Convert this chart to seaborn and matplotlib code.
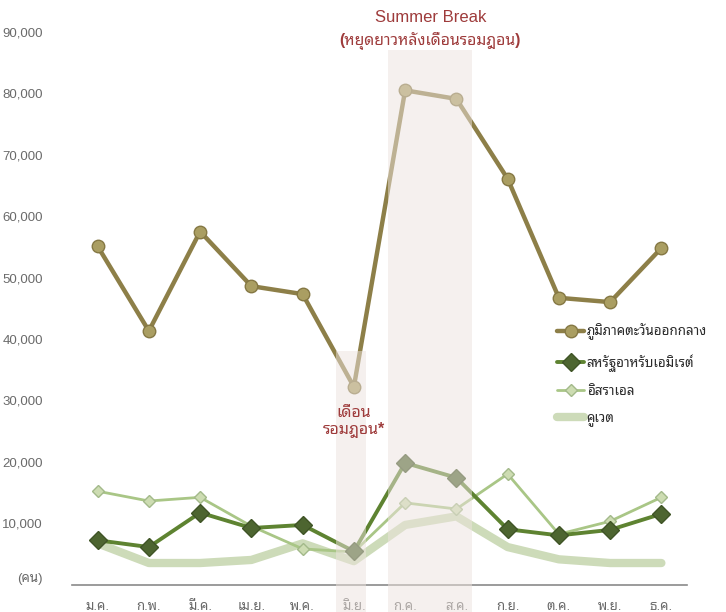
import matplotlib
matplotlib.use("Agg")
import matplotlib.pyplot as plt
from matplotlib.patches import Rectangle
from matplotlib.lines import Line2D
from matplotlib.transforms import ScaledTranslation
import seaborn as sns
import pandas as pd
import numpy as np

months = ["ม.ค.", "ก.พ.", "มี.ค.", "เม.ย.", "พ.ค.", "มิ.ย.", "ก.ค.", "ส.ค.", "ก.ย.", "ต.ค.", "พ.ย.", "ธ.ค."]
middle_east = [55100, 41300, 57500, 48600, 47300, 32200, 80500, 79100, 66100, 46700, 46000, 54800]
uae = [7200, 6100, 11700, 9200, 9700, 5400, 19800, 17400, 9000, 8000, 8900, 11500]
israel = [15200, 13600, 14200, 9500, 5800, 5300, 13300, 12300, 18000, 8200, 10300, 14200]
kuwait = [6700, 3500, 3500, 4000, 6700, 3800, 9700, 11100, 6100, 4100, 3500, 3500]
series_names = ["ภูมิภาคตะวันออกกลาง", "สหรัฐอาหรับเอมิเรต์", "อิสราเอล", "คูเวต"]
yticks = [0, 10000, 20000, 30000, 40000, 50000, 60000, 70000, 80000, 90000]
ytick_labels = ["(คน)", "10,000", "20,000", "30,000", "40,000", "50,000", "60,000", "70,000", "80,000", "90,000"]

sns.set_theme(style="white")
plt.rcParams['font.family'] = ['Liberation Sans', 'Noto Sans Thai Looped', 'DejaVu Sans']

df = pd.DataFrame({
    "x": list(range(12)) * 4,
    "value": middle_east + uae + israel + kuwait,
    "series": sum([[n] * 12 for n in series_names], []),
})

fig = plt.figure(figsize=(7.26, 6.12), dpi=100)
ax = fig.add_axes([72 / 726, 27.5 / 612, 615 / 726, 552.5 / 612])

styles = {
    series_names[3]: dict(color="#cddbb9", lw=6.0, marker=None, ms=0, mfc=None, mec=None, z=2),
    series_names[2]: dict(color="#a9c686", lw=2.0, marker="D", ms=6.5, mfc="#cddcb2", mec="#a3b98a", z=3),
    series_names[1]: dict(color="#5e8331", lw=2.8, marker="D", ms=9.5, mfc="#4d6530", mec="#3f5426", z=4),
    series_names[0]: dict(color="#8d7f48", lw=3.2, marker="o", ms=9, mfc="#aa9e62", mec="#857844", z=4.5),
}
for name in [series_names[3], series_names[2], series_names[1], series_names[0]]:
    st = styles[name]
    sub = df[df["series"] == name]
    kw = dict(color=st["color"], linewidth=st["lw"], zorder=st["z"])
    if st["marker"]:
        kw.update(marker=st["marker"], markersize=st["ms"], markerfacecolor=st["mfc"],
                  markeredgecolor=st["mec"], markeredgewidth=1.0)
    sns.lineplot(data=sub, x="x", y="value", ax=ax, legend=False, **kw)

ax.set_xlim(-0.5, 11.5)
ax.set_ylim(0, 90000)
ax.set_xticks(range(12))
ax.set_xticklabels(months)
ax.set_yticks(yticks)
ax.set_yticklabels(ytick_labels)
ax.set_xlabel("")
ax.set_ylabel("")
ax.tick_params(axis="x", length=0, pad=12, labelsize=9.5, labelcolor="#6a6a6a")
ax.tick_params(axis="y", length=0, pad=21, labelsize=9.5, labelcolor="#6a6a6a")
for s in ["left", "right", "top"]:
    ax.spines[s].set_visible(False)
ax.spines["bottom"].set_color("#8a8a8a")
ax.spines["bottom"].set_linewidth(1.2)
ax.grid(False)

# lift the "(คน)" label slightly above the baseline
zero_lbl = ax.get_yticklabels()[0]
zero_lbl.set_transform(zero_lbl.get_transform() + ScaledTranslation(0, 0.07, fig.dpi_scale_trans))

# shaded bands (drawn over lines and labels, semi-transparent)
trans = ax.get_xaxis_transform()
band_kw = dict(transform=trans, facecolor="#ede3de", alpha=0.5, edgecolor="none", zorder=6, clip_on=False)
ax.add_patch(Rectangle((4.66, -0.06), 0.58, 0.06 + 38000 / 90000, **band_kw))
ax.add_patch(Rectangle((5.67, -0.06), 1.64, 0.06 + 87000 / 90000, **band_kw))

red = "#9e3b3b"
ax.text(5.0, 26600, "เดือน\nรอมฎอน*", ha="center", va="center", color=red,
        fontsize=11.5, fontweight="bold", linespacing=1.15, zorder=7)
ax.text(6.49, 92300, "Summer Break", ha="center", va="center", color=red,
        fontsize=12, zorder=7, clip_on=False)
ax.text(6.49, 88600, "(หยุดยาวหลังเดือนรอมฎอน)", ha="center", va="center", color=red,
        fontsize=11.3, fontweight="bold", zorder=7, clip_on=False)

handles = [
    Line2D([], [], color=styles[series_names[0]]["color"], lw=3.2, marker="o", ms=9,
           mfc=styles[series_names[0]]["mfc"], mec=styles[series_names[0]]["mec"]),
    Line2D([], [], color=styles[series_names[1]]["color"], lw=2.8, marker="D", ms=9.5,
           mfc=styles[series_names[1]]["mfc"], mec=styles[series_names[1]]["mec"]),
    Line2D([], [], color=styles[series_names[2]]["color"], lw=2.0, marker="D", ms=6.5,
           mfc=styles[series_names[2]]["mfc"], mec=styles[series_names[2]]["mec"]),
    Line2D([], [], color=styles[series_names[3]]["color"], lw=6.0),
]
leg = fig.legend(handles, series_names, loc="upper left", bbox_to_anchor=(552 / 726, 1 - 318 / 612),
                 frameon=False, fontsize=9.6, handlelength=2.0, handletextpad=0.2,
                 labelspacing=1.05, borderaxespad=0)
for t in leg.get_texts():
    t.set_color("#2a2a2a")

fig.savefig("out.png", dpi=100)
